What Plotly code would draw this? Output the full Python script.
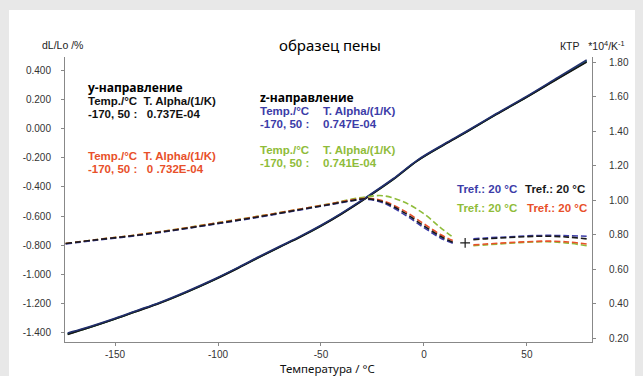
import plotly.graph_objects as go

# ---- thermal expansion dL/Lo (%) vs temperature, four samples ----
temp_dl = [-173, -165, -150, -140, -128, -115, -102, -90, -80, -70, -60, -50,
           -40, -28, -15, -3, 10, 20, 35, 50, 65, 79]
dl_y_black = [-1.410, -1.375, -1.305, -1.255, -1.195, -1.120, -1.038, -0.955,
              -0.882, -0.812, -0.743, -0.668, -0.585, -0.476, -0.350, -0.220,
              -0.110, -0.030, 0.095, 0.215, 0.340, 0.455]
dl_y_red = [-1.405, -1.372, -1.302, -1.252, -1.192, -1.117, -1.035, -0.952,
            -0.879, -0.809, -0.740, -0.665, -0.582, -0.473, -0.347, -0.217,
            -0.107, -0.027, 0.098, 0.218, 0.345, 0.462]
dl_z_blue = [-1.400, -1.368, -1.299, -1.249, -1.189, -1.114, -1.032, -0.949,
             -0.876, -0.806, -0.737, -0.662, -0.579, -0.470, -0.344, -0.214,
             -0.104, -0.024, 0.101, 0.222, 0.350, 0.470]
dl_z_green = [-1.407, -1.374, -1.304, -1.254, -1.194, -1.119, -1.037, -0.954,
              -0.881, -0.811, -0.742, -0.667, -0.584, -0.475, -0.349, -0.219,
              -0.109, -0.029, 0.096, 0.216, 0.342, 0.458]

# ---- КТР (10^-4/K) curves: main segment and segment after Tref ----
temp_a1 = [-174, -160, -140, -120, -100, -80, -60, -45, -35, -28, -20, -10, 0, 8, 14]
a_y_black = [0.748, 0.768, 0.795, 0.828, 0.865, 0.903, 0.945, 0.976, 0.997,
             1.007, 0.990, 0.930, 0.850, 0.790, 0.755]
a_y_red = [0.748, 0.769, 0.797, 0.830, 0.868, 0.906, 0.948, 0.979, 1.001,
           1.010, 0.996, 0.940, 0.862, 0.800, 0.765]
a_z_blue = [0.745, 0.766, 0.793, 0.826, 0.863, 0.901, 0.943, 0.974, 0.995,
            1.004, 0.984, 0.920, 0.840, 0.780, 0.750]
a_z_green = [0.748, 0.769, 0.797, 0.831, 0.869, 0.907, 0.948, 0.980, 1.005,
             1.018, 1.025, 0.990, 0.920, 0.840, 0.785]

temp_a2 = [24, 30, 40, 50, 60, 70, 79]
a2_y_black = [0.770, 0.775, 0.782, 0.788, 0.790, 0.785, 0.775]
a2_y_red = [0.740, 0.745, 0.752, 0.758, 0.762, 0.757, 0.745]
a2_z_blue = [0.775, 0.780, 0.786, 0.792, 0.795, 0.793, 0.790]
a2_z_green = [0.735, 0.740, 0.748, 0.755, 0.758, 0.750, 0.735]

tref_point = (20, 0.751)

# axis ticks
x_ticks = [-150, -100, -50, 0, 50]
left_ticks = [0.4, 0.2, 0.0, -0.2, -0.4, -0.6, -0.8, -1.0, -1.2, -1.4]
left_labels = ["0.400", "0.200", "0.000", "-0.200", "-0.400", "-0.600",
               "-0.800", "-1.000", "-1.200", "-1.400"]
right_ticks = [1.8, 1.6, 1.4, 1.2, 1.0, 0.8, 0.6, 0.4, 0.2]
right_labels = ["1.80", "1.60", "1.40", "1.20", "1.00", "0.80", "0.60", "0.40", "0.20"]

# colours
C_BLACK = "#1a1a1a"
C_RED = "#e8502a"
C_BLUE = "#3c3ca8"
C_GREEN = "#8fbc3a"
SOLID = {"black": "#151515", "red": "#1f5f6a", "blue": "#23306e", "green": "#3d7a35"}

W, H = 643, 376
L, R, T, B = 65, 592, 57, 342

fig = go.Figure()

# solid dilatation curves (left axis)
for vals, col in [(dl_z_green, SOLID["green"]), (dl_y_red, SOLID["red"]),
                  (dl_y_black, SOLID["black"]), (dl_z_blue, SOLID["blue"])]:
    fig.add_trace(go.Scatter(x=temp_dl, y=vals, mode="lines",
                             line=dict(color=col, width=1.6, shape="spline"),
                             showlegend=False, hoverinfo="skip"))

# dashed КТР curves (right axis)
dash = "6px,3px"
for t, series in [(temp_a1, [(a_z_green, C_GREEN), (a_y_red, C_RED),
                             (a_z_blue, C_BLUE), (a_y_black, C_BLACK)]),
                  (temp_a2, [(a2_z_green, C_GREEN), (a2_y_red, C_RED),
                             (a2_z_blue, C_BLUE), (a2_y_black, C_BLACK)])]:
    for vals, col in series:
        fig.add_trace(go.Scatter(x=t, y=vals, mode="lines", yaxis="y2",
                                 line=dict(color=col, width=1.6, dash=dash, shape="spline"),
                                 showlegend=False, hoverinfo="skip"))

fig.add_trace(go.Scatter(x=[tref_point[0]], y=[tref_point[1]], mode="markers", yaxis="y2",
                         marker=dict(symbol="cross-thin", size=7,
                                     line=dict(color=C_BLACK, width=1.2)),
                         showlegend=False, hoverinfo="skip"))


def px(x):
    return (x - L) / (R - L)


def py(y):
    return (B - y) / (B - T)


annotations = []
NB = "\u00a0"


def ann(text, x, y, color="#000", size=10, family="Liberation Sans", bold=False,
        xanchor="left"):
    if bold:
        text = "<b>" + text + "</b>"
    annotations.append(dict(text=text, x=px(x), y=py(y), xref="paper", yref="paper",
                            xanchor=xanchor, yanchor="middle", showarrow=False,
                            font=dict(color=color, size=size, family=family)))


ann("образец пены", 330, 45, "#000", 15, "Noto Sans", xanchor="center")
ann("dL/Lo /%", 62, 45, "#222", 10.5, "Liberation Sans", xanchor="center")
ann("КТР" + NB * 3 + "*10<sup>4</sup>/K<sup>-1</sup>", 592, 45, "#222", 10.5,
    "Liberation Sans", xanchor="center")

FS = 11.5
ann("у-направление", 86, 87, "#000", 12, "Open Sans", bold=True)
ann("Temp./°C" + NB * 2 + "T. Alpha/(1/K)", 86, 101, "#111", FS, bold=True)
ann("-170, 50 :" + NB * 3 + "0.737E-04", 86, 114, "#111", FS, bold=True)
ann("Temp./°C" + NB * 2 + "T. Alpha/(1/K)", 86, 156, C_RED, FS, bold=True)
ann("-170, 50 :" + NB * 3 + "0 .732E-04", 86, 169, C_RED, FS, bold=True)

ann("z-направление", 258, 97, "#000", 12, "Open Sans", bold=True)
ann("Temp./°C", 258, 111, C_BLUE, FS, bold=True)
ann("T. Alpha/(1/K)", 321, 111, C_BLUE, FS, bold=True)
ann("-170, 50 :", 258, 124, C_BLUE, FS, bold=True)
ann("0.747E-04", 321, 124, C_BLUE, FS, bold=True)
ann("Temp./°C", 258, 150, C_GREEN, FS, bold=True)
ann("T. Alpha/(1/K)", 321, 150, C_GREEN, FS, bold=True)
ann("-170, 50 :", 258, 163, C_GREEN, FS, bold=True)
ann("0.741E-04", 321, 163, C_GREEN, FS, bold=True)

ann("Tref.: 20 °C", 455, 189, C_BLUE, FS, bold=True)
ann("Tref.: 20 °C", 523, 189, C_BLACK, FS, bold=True)
ann("Tref.: 20 °C", 455, 208, C_GREEN, FS, bold=True)
ann("Tref.: 20 °C", 525, 208, C_RED, FS, bold=True)

ann("Температура / °C", 327, 368, "#111", 11.5, "Noto Sans", xanchor="center")

# white sheet on grey page
shapes = [dict(type="rect", xref="paper", yref="paper", layer="below",
               x0=px(9), x1=px(635), y0=py(W), y1=py(10),
               fillcolor="white", line=dict(width=0))]

axis_font = dict(family="Liberation Sans", size=10, color="#333")

fig.update_layout(
    width=W, height=H,
    margin=dict(l=L, r=W - R, t=T, b=H - B, pad=0),
    paper_bgcolor="#e8e8e8", plot_bgcolor="white",
    showlegend=False,
    annotations=annotations, shapes=shapes,
    xaxis=dict(range=[-174.3, 81.6], tickvals=x_ticks,
               ticktext=[str(v) for v in x_ticks],
               showgrid=False, zeroline=False, showline=True, linecolor="#888",
               linewidth=1, ticks="outside", ticklen=3, tickcolor="#888",
               tickfont=axis_font),
    yaxis=dict(range=[-1.462, 0.49], tickvals=left_ticks, ticktext=left_labels,
               showgrid=False, zeroline=False, showline=True, linecolor="#888",
               linewidth=1, ticks="outside", ticklen=3, tickcolor="#888",
               tickfont=axis_font, ticklabelstandoff=8),
    yaxis2=dict(range=[0.177, 1.829], tickvals=right_ticks, ticktext=right_labels,
                overlaying="y", side="right", showgrid=False, zeroline=False,
                showline=True, linecolor="#888", linewidth=1, ticks="outside",
                ticklen=3, tickcolor="#888", tickfont=axis_font,
                ticklabelstandoff=11),
)

fig.write_html("out.html")
